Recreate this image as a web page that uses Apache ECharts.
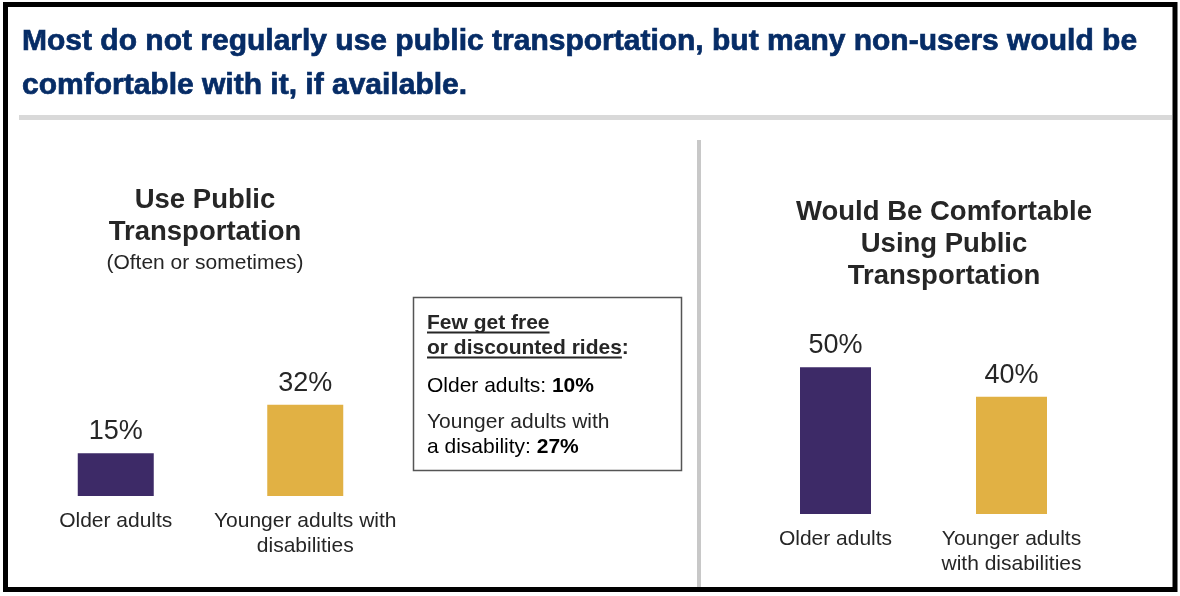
<!DOCTYPE html>
<html><head><meta charset="utf-8">
<script src="https://cdn.jsdelivr.net/npm/echarts@6/dist/echarts.min.js"></script>
<style>html,body{margin:0;padding:0;background:#fff}#c{width:1180px;height:596px}</style>
</head><body><div id="c"></div>
<script>
// ---- data ----
const titleLines = ['Most do not regularly use public transportation, but many non-users would be', 'comfortable with it, if available.'];
const leftHeading = ['Use Public', 'Transportation'];
const leftSubheading = '(Often or sometimes)';
const rightHeading = ['Would Be Comfortable', 'Using Public', 'Transportation'];
const categoriesUse = ['Older adults', 'Younger adults with\ndisabilities'];
const valuesUse = [15, 32];
const categoriesComfort = ['Older adults', 'Younger adults\nwith disabilities'];
const valuesComfort = [50, 40];
const barColors = ['#3d2a67', '#e1b144'];
const ridesHeading = ['Few get free', 'or discounted rides'];
const ridesLabels = ['Older adults: ', 'a disability: '];
const ridesExtra = 'Younger adults with';
const ridesValues = [10, 27];

const FONT = '"Liberation Sans", Arial, Helvetica, sans-serif';
const TXT = '#262626';

function measure(text, font) {
  const c = document.createElement('canvas').getContext('2d');
  c.font = font;
  return c.measureText(text).width;
}

const chart = echarts.init(document.getElementById('c'), null, {renderer: 'canvas'});

const graphics = [];
// outer frame
graphics.push({type: 'rect', shape: {x: 5.5, y: 4.5, width: 1169.5, height: 585}, style: {fill: 'none', stroke: '#000', lineWidth: 5}, z: 10});
// title
titleLines.forEach((t, i) => graphics.push({type: 'text', x: 22, y: [42, 86][i], style: {text: t, font: 'bold 30px ' + FONT, fill: '#062c66', stroke: '#062c66', lineWidth: 0.7, textAlign: 'left', textVerticalAlign: 'middle'}}));
// title rule
graphics.push({type: 'line', shape: {x1: 19, y1: 117.5, x2: 1172, y2: 117.5}, style: {stroke: '#d9d9d9', lineWidth: 5}});
// vertical divider
graphics.push({type: 'line', shape: {x1: 699, y1: 140, x2: 699, y2: 587}, style: {stroke: '#c8c8c8', lineWidth: 4}});
// left heading
leftHeading.forEach((t, i) => graphics.push({type: 'text', x: 205, y: [200, 232][i], style: {text: t, font: 'bold 27.5px ' + FONT, fill: TXT, textAlign: 'center', textVerticalAlign: 'middle'}}));
graphics.push({type: 'text', x: 205, y: 263, style: {text: leftSubheading, font: '21px ' + FONT, fill: TXT, textAlign: 'center', textVerticalAlign: 'middle'}});
// right heading
rightHeading.forEach((t, i) => graphics.push({type: 'text', x: 944, y: [212, 244, 276][i], style: {text: t, font: 'bold 27.5px ' + FONT, fill: TXT, textAlign: 'center', textVerticalAlign: 'middle'}}));
// rides box
graphics.push({type: 'rect', shape: {x: 413.5, y: 297.5, width: 268, height: 173}, style: {fill: '#fff', stroke: '#555', lineWidth: 1.5}});
const boxFs = 21;
const bFont = 'bold ' + boxFs + 'px ' + FONT;
const rFont = boxFs + 'px ' + FONT;
const hy = [323, 348];
ridesHeading.forEach((t, i) => {
  graphics.push({type: 'text', x: 427, y: hy[i], style: {text: t + (i === 1 ? ':' : ''), font: bFont, fill: TXT, textAlign: 'left', textVerticalAlign: 'middle'}});
  const w = measure(t, bFont);
  graphics.push({type: 'line', shape: {x1: 427, y1: hy[i] + 9.5, x2: 427 + w, y2: hy[i] + 9.5}, style: {stroke: TXT, lineWidth: 2}});
});
const rich = {n: {fontSize: boxFs, fontFamily: FONT, color: TXT}, b: {fontWeight: 'bold', fontSize: boxFs, fontFamily: FONT, color: TXT}};
graphics.push({type: 'text', x: 427, y: 386, style: {text: '{n|' + ridesLabels[0] + '}{b|' + ridesValues[0] + '%}', rich: rich, textAlign: 'left', textVerticalAlign: 'middle'}});
graphics.push({type: 'text', x: 427, y: 422, style: {text: ridesExtra, font: rFont, fill: TXT, textAlign: 'left', textVerticalAlign: 'middle'}});
graphics.push({type: 'text', x: 427, y: 447, style: {text: '{n|' + ridesLabels[1] + '}{b|' + ridesValues[1] + '%}', rich: rich, textAlign: 'left', textVerticalAlign: 'middle'}});

function barData(vals) { return vals.map((v, i) => ({value: v, itemStyle: {color: barColors[i]}})); }
const axLabel = (m) => ({show: true, interval: 0, fontSize: 21, lineHeight: 25, color: TXT, fontFamily: FONT, margin: m});
const valLabel = {show: true, position: 'top', distance: 8, formatter: '{c}%', fontSize: 27, color: TXT, fontFamily: FONT};

chart.setOption({
  animation: false,
  backgroundColor: '#fff',
  grid: [
    {left: 21, width: 379, top: 325, height: 171},
    {left: 747.5, width: 352, top: 338, height: 176}
  ],
  xAxis: [
    {type: 'category', gridIndex: 0, data: categoriesUse, axisLine: {show: false}, axisTick: {show: false}, axisLabel: axLabel(13)},
    {type: 'category', gridIndex: 1, data: categoriesComfort, axisLine: {show: false}, axisTick: {show: false}, axisLabel: axLabel(13)}
  ],
  yAxis: [
    {type: 'value', gridIndex: 0, min: 0, max: 60, show: false, splitLine: {show: false}},
    {type: 'value', gridIndex: 1, min: 0, max: 60, show: false, splitLine: {show: false}}
  ],
  series: [
    {type: 'bar', xAxisIndex: 0, yAxisIndex: 0, barWidth: 76, data: barData(valuesUse), label: valLabel},
    {type: 'bar', xAxisIndex: 1, yAxisIndex: 1, barWidth: 71, data: barData(valuesComfort), label: valLabel}
  ],
  graphic: graphics
});
</script></body></html>
